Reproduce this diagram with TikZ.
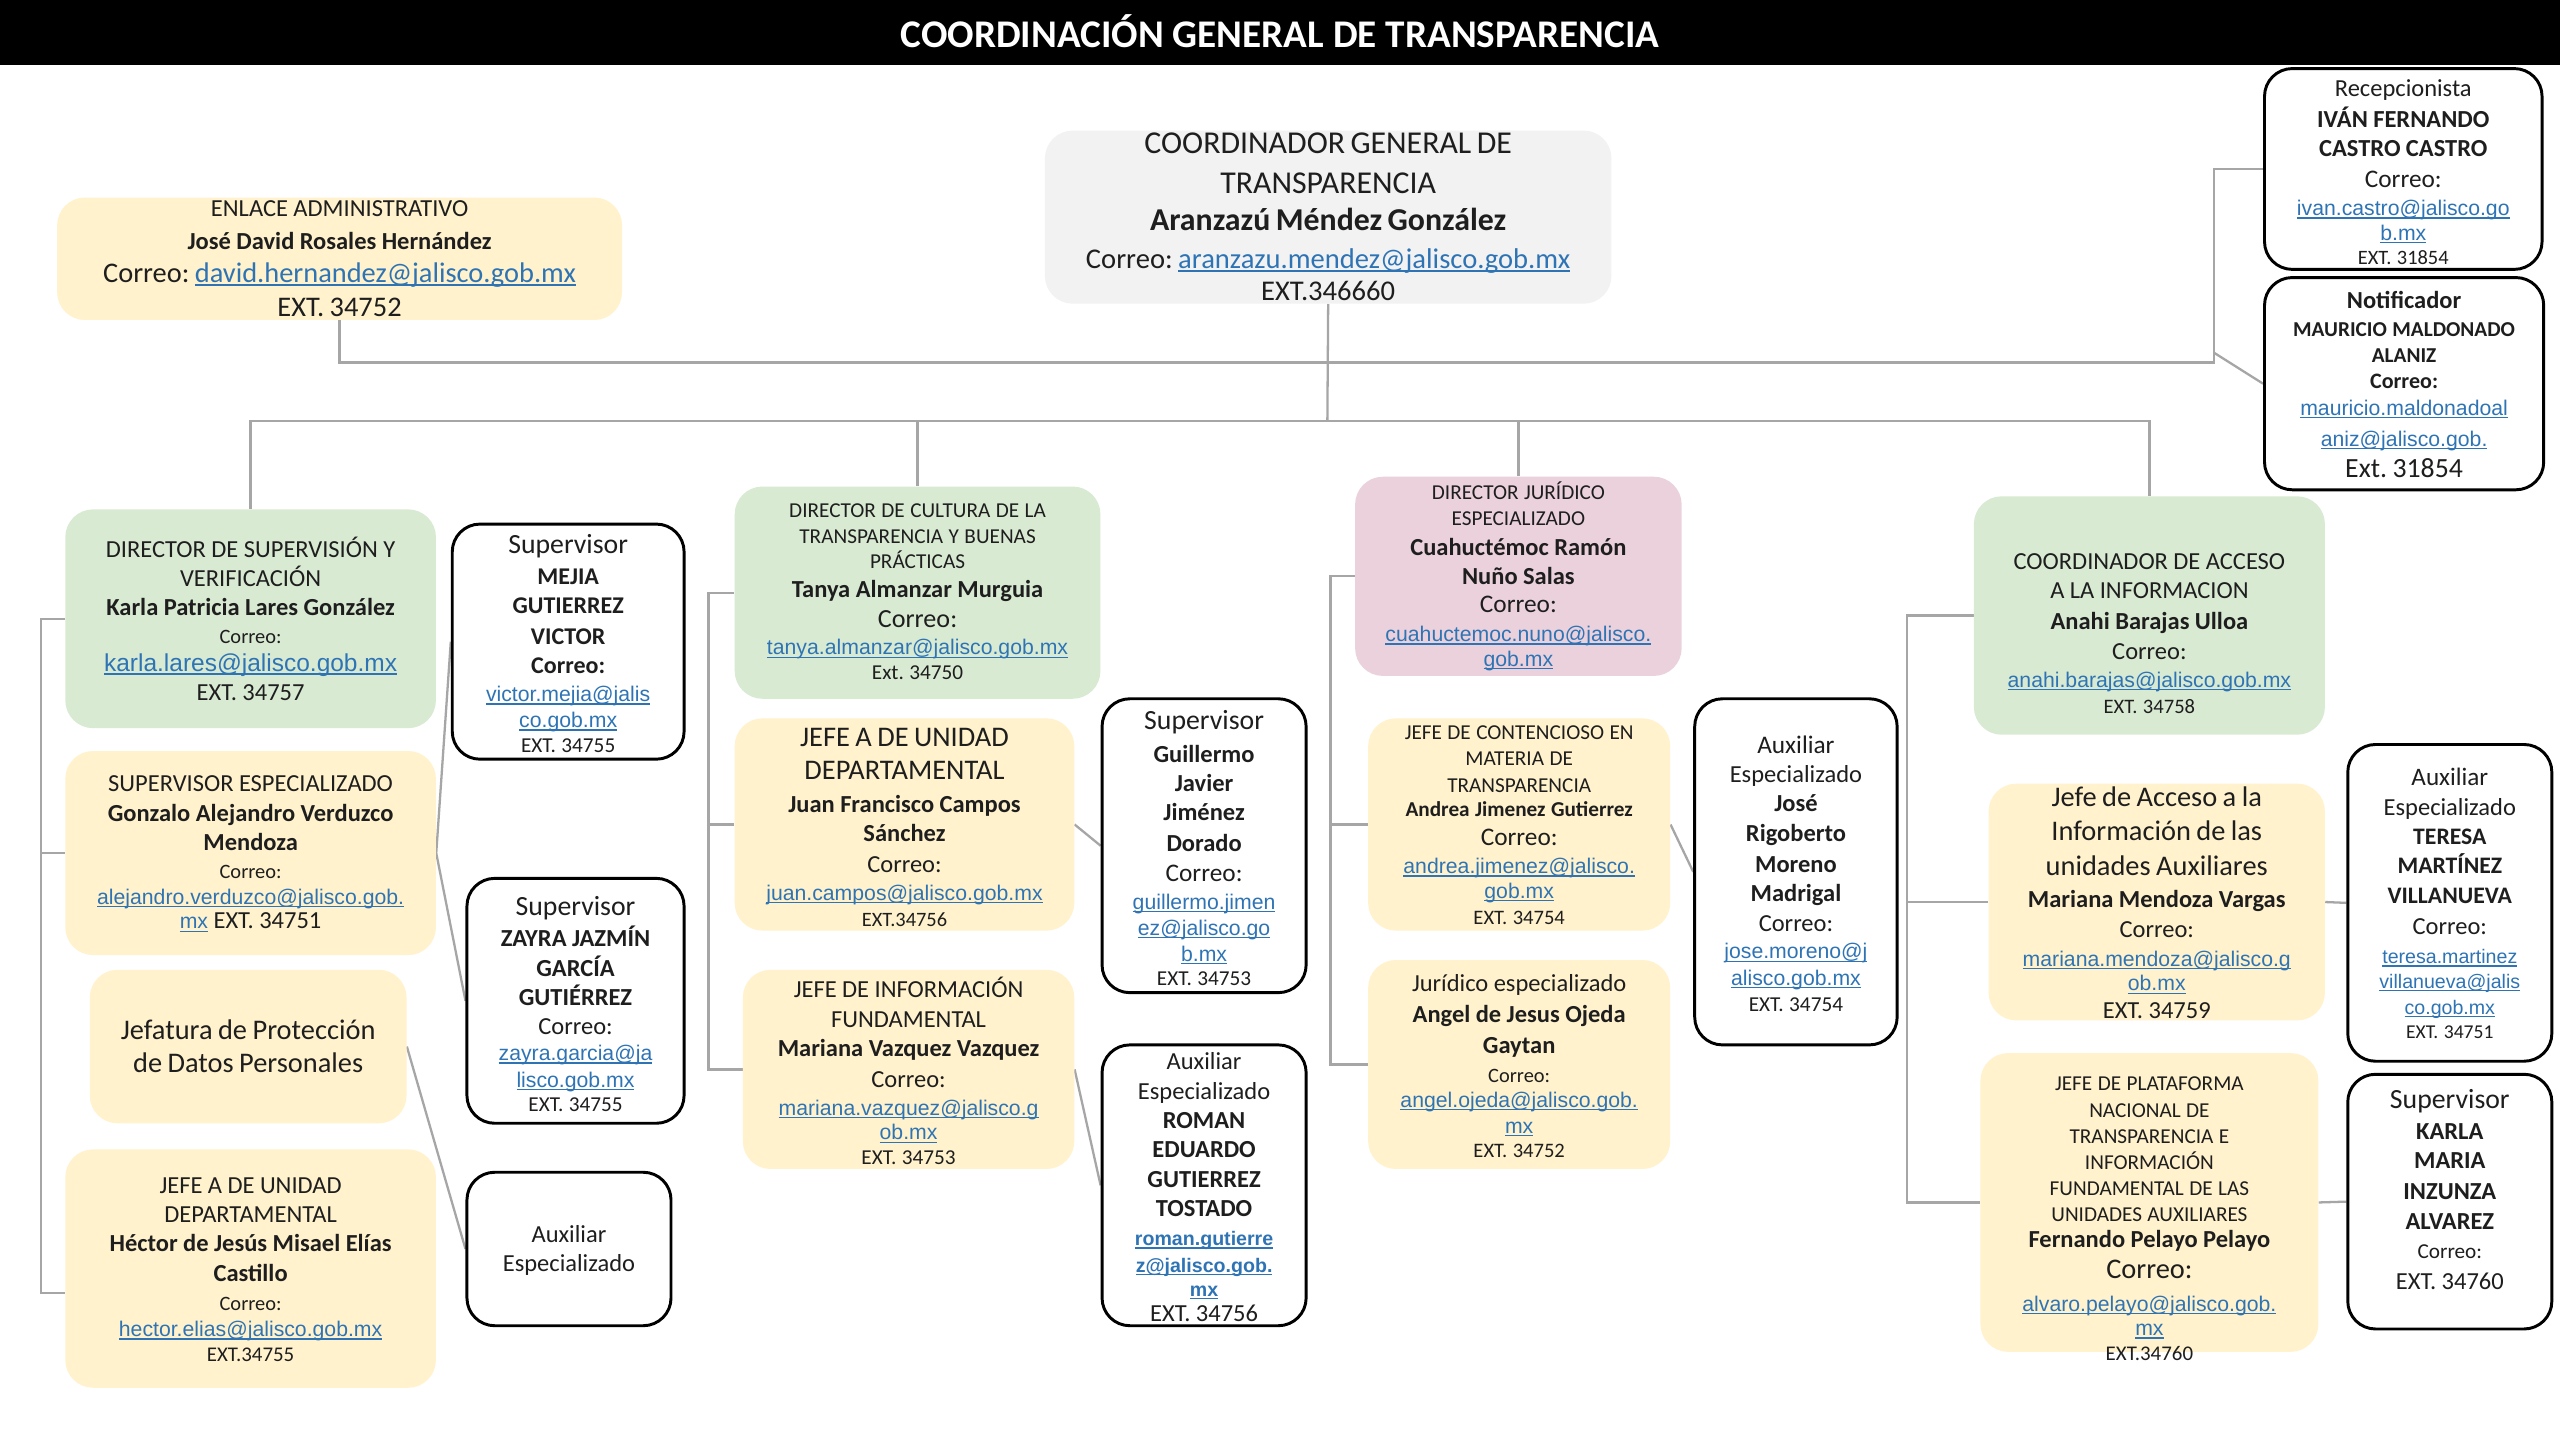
\documentclass[tikz,border=0pt]{standalone}
\usepackage{fontspec}
\setmainfont{Carlito}
\newfontfamily\arialf{Liberation Sans}
\usetikzlibrary{backgrounds}
\frenchspacing
\definecolor{gfill}{HTML}{D9EAD3}
\definecolor{yfill}{HTML}{FFF2CC}
\definecolor{pfill}{HTML}{EAD1DC}
\definecolor{grfill}{HTML}{F2F2F2}
\definecolor{lnk}{HTML}{2E74B5}
\definecolor{connc}{HTML}{A6A6A6}
\definecolor{txtc}{HTML}{1E1E1E}
\newcommand\fs[2]{\fontsize{#1}{#2}\selectfont}
\newcommand\Ln[3]{{\fs{#1}{#2}\frenchspacing\leavevmode#3\par}}
\newcommand\myul[1]{\leavevmode\setbox0\hbox{#1}\rlap{\rule[-0.14em]{\wd0}{0.065em}}\box0}
\newcommand\lk[1]{\leavevmode{\arialf\color{lnk}\myul{#1}}}
\newcommand\lkc[1]{\leavevmode{\color{lnk}\myul{#1}}}
\newcommand\lkb[1]{\leavevmode{\arialf\bfseries\color{lnk}\myul{#1}}}
\newcommand\bx[6]{\node[#1, minimum width={#5-#3}, minimum height={#6-#4}] (#2) at ({(#3+#5)/2},{(#4+#6)/2}) {};}
\newcommand\tx[5]{\node[tnode, text width=#4pt] (#1) at (#2,#3) {#5};}
\begin{document}
\begin{tikzpicture}[x=1pt,y=-1pt,
  shp/.style={rectangle, rounded corners=17pt, inner sep=0pt},
  gbox/.style={shp, fill=gfill},
  ybox/.style={shp, fill=yfill},
  pbox/.style={shp, fill=pfill},
  grbox/.style={shp, fill=grfill},
  wbox/.style={shp, draw=black, line width=1.8pt, fill=white},
  tnode/.style={inner sep=0pt, align=center, text=txtc},
  conn/.style={draw=connc, line width=1.4pt}]
\useasboundingbox (0,0) rectangle (1568,882);
% header
\fill[black] (0,0) rectangle (1568,40);
\node[text=white, font=\fs{24}{28}\bfseries] (title) at (784,19) {COORDINACIÓN GENERAL DE TRANSPARENCIA};

% ---------- boxes ----------
\bx{grbox}{coord}{640}{80}{987}{186}
\bx{ybox}{enl}{35}{121}{381}{196}
\bx{wbox}{recep}{1387}{42}{1557}{165}
\bx{wbox}{notif}{1387}{170}{1558}{300}

\bx{gbox}{dirsup}{40}{312}{267}{446}
\bx{ybox}{supesp}{40}{460}{267}{585}
\bx{ybox}{jefat}{55}{594}{249}{688}
\bx{ybox}{jefea1}{40}{704}{267}{850}
\bx{wbox}{mejia}{277}{321}{419}{465}
\bx{wbox}{zayra}{286}{538}{419}{688}
\bx{wbox}{aux1}{286}{718}{411}{812}

\bx{gbox}{dircult}{450}{298}{674}{428}
\bx{ybox}{jefea2}{450}{440}{658}{570}
\bx{ybox}{jefeinfo}{455}{594}{658}{716}
\bx{wbox}{guill}{675}{428}{800}{608}
\bx{wbox}{roman}{675}{640}{800}{812}

\bx{pbox}{dirjur}{830}{292}{1030}{414}
\bx{ybox}{cont}{838}{440}{1023}{570}
\bx{ybox}{juresp}{838}{588}{1023}{716}
\bx{wbox}{jose}{1038}{428}{1162}{640}

\bx{gbox}{coordacc}{1209}{304}{1424}{450}
\bx{ybox}{jefeacc}{1218}{480}{1424}{625}
\bx{ybox}{plat}{1213}{645}{1420}{828}
\bx{wbox}{teresa}{1438}{456}{1563}{650}
\bx{wbox}{karla}{1438}{658}{1563}{814}

% ---------- texts ----------
\tx{tcoord}{813.5}{133}{360}{%
\Ln{19.5}{24}{COORDINADOR GENERAL DE}%
\Ln{19.5}{24}{TRANSPARENCIA}%
\Ln{19.5}{23}{\textbf{Aranzazú Méndez González}}%
\Ln{17.5}{23}{Correo: \lkc{aranzazu.mendez@jalisco.gob.mx}}%
\Ln{17.5}{20}{EXT.346660}}
\tx{tenl}{208}{158.5}{360}{%
\Ln{15}{20}{ENLACE ADMINISTRATIVO}%
\Ln{15}{20}{\textbf{José David Rosales Hernández}}%
\Ln{17.4}{20}{Correo: \lkc{david.hernandez@jalisco.gob.mx}}%
\Ln{17.4}{21}{EXT. 34752}}
\tx{trecep}{1472}{105.5}{180}{%
\Ln{15}{19}{Recepcionista}%
\Ln{15}{19}{\textbf{IVÁN FERNANDO}}%
\Ln{15}{18}{\textbf{CASTRO CASTRO}}%
\Ln{15.5}{19}{Correo:}%
\Ln{13}{17}{\lk{ivan.castro@jalisco.go}}%
\Ln{13}{15}{\lk{b.mx}}%
\Ln{12.5}{15}{EXT. 31854}}
\tx{tnotif}{1472.5}{235.5}{180}{%
\Ln{15}{17}{\textbf{Notificador}}%
\Ln{13}{17}{\textbf{MAURICIO MALDONADO}}%
\Ln{13}{16}{\textbf{ALANIZ}}%
\Ln{13.5}{16}{\textbf{Correo:}}%
\Ln{13}{16}{\lk{mauricio.maldonadoal}}%
\Ln{13}{19}{\lk{aniz@jalisco.gob.}}%
\Ln{17}{19}{Ext. 31854}}

\tx{tdirsup}{153.5}{379}{240}{%
\Ln{15}{18}{DIRECTOR DE SUPERVISIÓN Y}%
\Ln{15}{18}{VERIFICACIÓN}%
\Ln{15}{18}{\textbf{Karla Patricia Lares González}}%
\Ln{12.5}{17}{Correo:}%
\Ln{15}{17}{\lk{karla.lares@jalisco.gob.mx}}%
\Ln{15}{18}{EXT. 34757}}
\tx{tsupesp}{153.5}{523}{240}{%
\Ln{15}{18}{SUPERVISOR ESPECIALIZADO}%
\Ln{15}{18}{\textbf{Gonzalo Alejandro Verduzco}}%
\Ln{15}{18}{\textbf{Mendoza}}%
\Ln{12.5}{17}{Correo:}%
\Ln{13}{16}{\lk{alejandro.verduzco@jalisco.gob.}}%
\Ln{15}{15}{{\fs{13}{15}\lk{mx}} EXT. 34751}}
\tx{tjefat}{152}{641}{200}{%
\Ln{17.4}{20}{Jefatura de Protección}%
\Ln{17.4}{20}{de Datos Personales}}
\tx{tjefea1}{153.5}{777.5}{240}{%
\Ln{15}{18}{JEFE A DE UNIDAD}%
\Ln{15}{18}{DEPARTAMENTAL}%
\Ln{15}{18}{\textbf{Héctor de Jesús Misael Elías}}%
\Ln{15}{18}{\textbf{Castillo}}%
\Ln{12.5}{18}{Correo:}%
\Ln{13}{16}{\lk{hector.elias@jalisco.gob.mx}}%
\Ln{12.8}{15}{EXT.34755}}
\tx{tmejia}{348}{394}{150}{%
\Ln{17}{19}{Supervisor}%
\Ln{14.7}{19}{\textbf{MEJIA}}%
\Ln{14.7}{18}{\textbf{GUTIERREZ}}%
\Ln{14.7}{19}{\textbf{VICTOR}}%
\Ln{14.7}{18}{\textbf{Correo:}}%
\Ln{13}{17}{\lk{victor.mejia@jalis}}%
\Ln{13}{16}{\lk{co.gob.mx}}%
\Ln{13}{15}{EXT. 34755}}
\tx{tzayra}{352.5}{615}{140}{%
\Ln{17}{19}{Supervisor}%
\Ln{15}{19}{\textbf{ZAYRA JAZMÍN}}%
\Ln{15}{18}{\textbf{GARCÍA}}%
\Ln{15}{18}{\textbf{GUTIÉRREZ}}%
\Ln{15}{18}{Correo:}%
\Ln{13}{16}{\lk{zayra.garcia@ja}}%
\Ln{13}{16}{\lk{lisco.gob.mx}}%
\Ln{13}{15}{EXT. 34755}}
\tx{taux1}{348.5}{766}{130}{%
\Ln{15}{18}{Auxiliar}%
\Ln{15}{18}{Especializado}}

\tx{tdircult}{562}{362.5}{230}{%
\Ln{13}{16}{DIRECTOR DE CULTURA DE LA}%
\Ln{13}{16}{TRANSPARENCIA Y BUENAS}%
\Ln{13}{15}{PRÁCTICAS}%
\Ln{15}{18}{\textbf{Tanya Almanzar Murguia}}%
\Ln{16}{18}{Correo:}%
\Ln{13}{17}{\lk{tanya.almanzar@jalisco.gob.mx}}%
\Ln{13}{15}{Ext. 34750}}
\tx{tjefea2}{554}{507}{215}{%
\Ln{17.4}{20}{JEFE A DE UNIDAD}%
\Ln{17.4}{20}{DEPARTAMENTAL}%
\Ln{15}{20}{\textbf{Juan Francisco Campos}}%
\Ln{15}{18}{\textbf{Sánchez}}%
\Ln{15}{19}{Correo:}%
\Ln{13}{17}{\lk{juan.campos@jalisco.gob.mx}}%
\Ln{12.5}{16}{EXT.34756}}
\tx{tjefeinfo}{556.5}{656}{210}{%
\Ln{15}{18}{JEFE DE INFORMACIÓN}%
\Ln{15}{18}{FUNDAMENTAL}%
\Ln{15}{18}{\textbf{Mariana Vazquez Vazquez}}%
\Ln{15}{19}{Correo:}%
\Ln{13}{17}{\lk{mariana.vazquez@jalisco.g}}%
\Ln{13}{15}{\lk{ob.mx}}%
\Ln{13}{15}{EXT. 34753}}
\tx{tguill}{737.5}{519.5}{130}{%
\Ln{17}{20}{Supervisor}%
\Ln{15}{20}{\textbf{Guillermo}}%
\Ln{15}{18}{\textbf{Javier}}%
\Ln{15}{18}{\textbf{Jiménez}}%
\Ln{15}{19}{\textbf{Dorado}}%
\Ln{15.5}{18}{Correo:}%
\Ln{13}{17}{\lk{guillermo.jimen}}%
\Ln{13}{16}{\lk{ez@jalisco.go}}%
\Ln{13}{16}{\lk{b.mx}}%
\Ln{13}{15}{EXT. 34753}}
\tx{troman}{737.5}{727}{130}{%
\Ln{15}{18}{Auxiliar}%
\Ln{15}{18}{Especializado}%
\Ln{15}{18}{\textbf{ROMAN}}%
\Ln{15}{18}{\textbf{EDUARDO}}%
\Ln{15}{18}{\textbf{GUTIERREZ}}%
\Ln{15}{18}{\textbf{TOSTADO}}%
\Ln{12}{18}{\lkb{roman.gutierre}}%
\Ln{12}{16}{\lkb{z@jalisco.gob.}}%
\Ln{12}{15}{\lkb{mx}}%
\Ln{15}{15}{EXT. 34756}}

\tx{tdirjur}{930}{353}{210}{%
\Ln{13}{16}{DIRECTOR JURÍDICO}%
\Ln{13}{16}{ESPECIALIZADO}%
\Ln{15}{18}{\textbf{Cuahuctémoc Ramón}}%
\Ln{15}{18}{\textbf{Nuño Salas}}%
\Ln{15.5}{17}{Correo:}%
\Ln{13}{18}{\lk{cuahuctemoc.nuno@jalisco.}}%
\Ln{13}{15}{\lk{gob.mx}}}
\tx{tcont}{930.5}{505.5}{190}{%
\Ln{13}{16}{JEFE DE CONTENCIOSO EN}%
\Ln{13}{16}{MATERIA DE}%
\Ln{13}{16}{TRANSPARENCIA}%
\Ln{13}{15}{\textbf{Andrea Jimenez Gutierrez}}%
\Ln{15.5}{18}{Correo:}%
\Ln{13}{17}{\lk{andrea.jimenez@jalisco.}}%
\Ln{13}{15}{\lk{gob.mx}}%
\Ln{12.6}{16}{EXT. 34754}}
\tx{tjuresp}{930.5}{653}{190}{%
\Ln{15}{18}{Jurídico especializado}%
\Ln{15}{19}{\textbf{Angel de Jesus Ojeda}}%
\Ln{15}{19}{\textbf{Gaytan}}%
\Ln{12.5}{18}{Correo:}%
\Ln{13}{15}{\lk{angel.ojeda@jalisco.gob.}}%
\Ln{13}{16}{\lk{mx}}%
\Ln{12.6}{15}{EXT. 34752}}
\tx{tjose}{1100}{535}{130}{%
\Ln{15.5}{18}{Auxiliar}%
\Ln{15}{18}{Especializado}%
\Ln{15}{18}{\textbf{José}}%
\Ln{15}{18}{\textbf{Rigoberto}}%
\Ln{15}{19}{\textbf{Moreno}}%
\Ln{15}{18}{\textbf{Madrigal}}%
\Ln{15}{18}{Correo:}%
\Ln{13}{17}{\lk{jose.moreno@j}}%
\Ln{13}{16}{\lk{alisco.gob.mx}}%
\Ln{13}{16}{EXT. 34754}}

\tx{tcoordacc}{1316.5}{388}{220}{%
\Ln{15}{18}{COORDINADOR DE ACCESO}%
\Ln{15}{18}{A LA INFORMACION}%
\Ln{15}{19}{\textbf{Anahi Barajas Ulloa}}%
\Ln{15}{18}{Correo:}%
\Ln{13}{17}{\lk{anahi.barajas@jalisco.gob.mx}}%
\Ln{12.6}{16}{EXT. 34758}}
\tx{tjefeacc}{1321}{553}{210}{%
\Ln{17.4}{21}{Jefe de Acceso a la}%
\Ln{17.4}{21}{Información de las}%
\Ln{17.4}{21}{unidades Auxiliares}%
\Ln{15}{20}{\textbf{Mariana Mendoza Vargas}}%
\Ln{15}{18}{Correo:}%
\Ln{13}{18}{\lk{mariana.mendoza@jalisco.g}}%
\Ln{13}{15}{\lk{ob.mx}}%
\Ln{15}{17}{EXT. 34759}}
\tx{tplat}{1316.5}{746.5}{210}{%
\Ln{13}{16}{JEFE DE PLATAFORMA}%
\Ln{13}{16}{NACIONAL DE}%
\Ln{13}{16}{TRANSPARENCIA E}%
\Ln{13}{16}{INFORMACIÓN}%
\Ln{13}{16}{FUNDAMENTAL DE LAS}%
\Ln{13}{16}{UNIDADES AUXILIARES}%
\Ln{15}{16}{\textbf{Fernando Pelayo Pelayo}}%
\Ln{17.4}{19}{Correo:}%
\Ln{13}{20}{\lk{alvaro.pelayo@jalisco.gob.}}%
\Ln{13}{15}{\lk{mx}}%
\Ln{12.8}{15}{EXT.34760}}
\tx{tteresa}{1500.5}{553.5}{130}{%
\Ln{15.4}{18}{Auxiliar}%
\Ln{15}{18}{Especializado}%
\Ln{14.5}{18}{\textbf{TERESA}}%
\Ln{14.5}{18}{\textbf{MARTÍNEZ}}%
\Ln{14.5}{18}{\textbf{VILLANUEVA}}%
\Ln{15}{19}{Correo:}%
\Ln{12}{18}{\lk{teresa.martinez}}%
\Ln{12}{15}{\lk{villanueva@jalis}}%
\Ln{12}{16}{\lk{co.gob.mx}}%
\Ln{12}{15}{EXT. 34751}}
\tx{tkarla}{1500.5}{728.5}{130}{%
\Ln{17}{19}{Supervisor}%
\Ln{15}{19}{\textbf{KARLA}}%
\Ln{15}{18}{\textbf{MARIA}}%
\Ln{15}{19}{\textbf{INZUNZA}}%
\Ln{15}{18}{\textbf{ALVAREZ}}%
\Ln{13}{18}{Correo:}%
\Ln{15}{19}{EXT. 34760}}

% ---------- connectors ----------
\coordinate (cR) at (1356,222);
\coordinate (nR) at (1356,216);
\coordinate (bus) at (813,258);
\coordinate (c1) at (25,0);
\coordinate (c2) at (434,0);
\coordinate (c3) at (815,0);
\coordinate (c4) at (1168,0);
\begin{scope}[on background layer]
\fill[white] (0,0) rectangle (1568,882);
\draw[conn] (enl.south) |- (cR) |- (recep.west);
\draw[conn] (nR) -- (notif.west);
\draw[conn] (coord.south) -- (bus);
\draw[conn] (dirsup.north) |- (bus) -| (coordacc.north);
\draw[conn] (dircult.north) -- (dircult.north |- bus);
\draw[conn] (dirjur.north) -- (dirjur.north |- bus);
% column 1
\draw[conn] (dirsup.west) -- (dirsup.west -| c1) |- ([yshift=-15pt]jefea1.west);
\draw[conn] (supesp.west) -- (supesp.west -| c1);
\draw[conn] (mejia.west) -- (supesp.east) -- (zayra.west);
\draw[conn] (jefat.east) -- (aux1.west);
% column 2
\draw[conn] (dircult.west) -- (dircult.west -| c2) |- (jefeinfo.west);
\draw[conn] (jefea2.west) -- (jefea2.west -| c2);
\draw[conn] (jefea2.east) -- (guill.west);
\draw[conn] (jefeinfo.east) -- (roman.west);
% column 3
\draw[conn] (dirjur.west) -- (dirjur.west -| c3) |- (juresp.west);
\draw[conn] (cont.west) -- (cont.west -| c3);
\draw[conn] (cont.east) -- (jose.west);
% column 4
\draw[conn] (coordacc.west) -- (coordacc.west -| c4) |- (plat.west);
\draw[conn] (jefeacc.west) -- (jefeacc.west -| c4);
\draw[conn] (jefeacc.east) -- (teresa.west);
\draw[conn] (plat.east) -- (karla.west);
\end{scope}
\end{tikzpicture}
\end{document}
